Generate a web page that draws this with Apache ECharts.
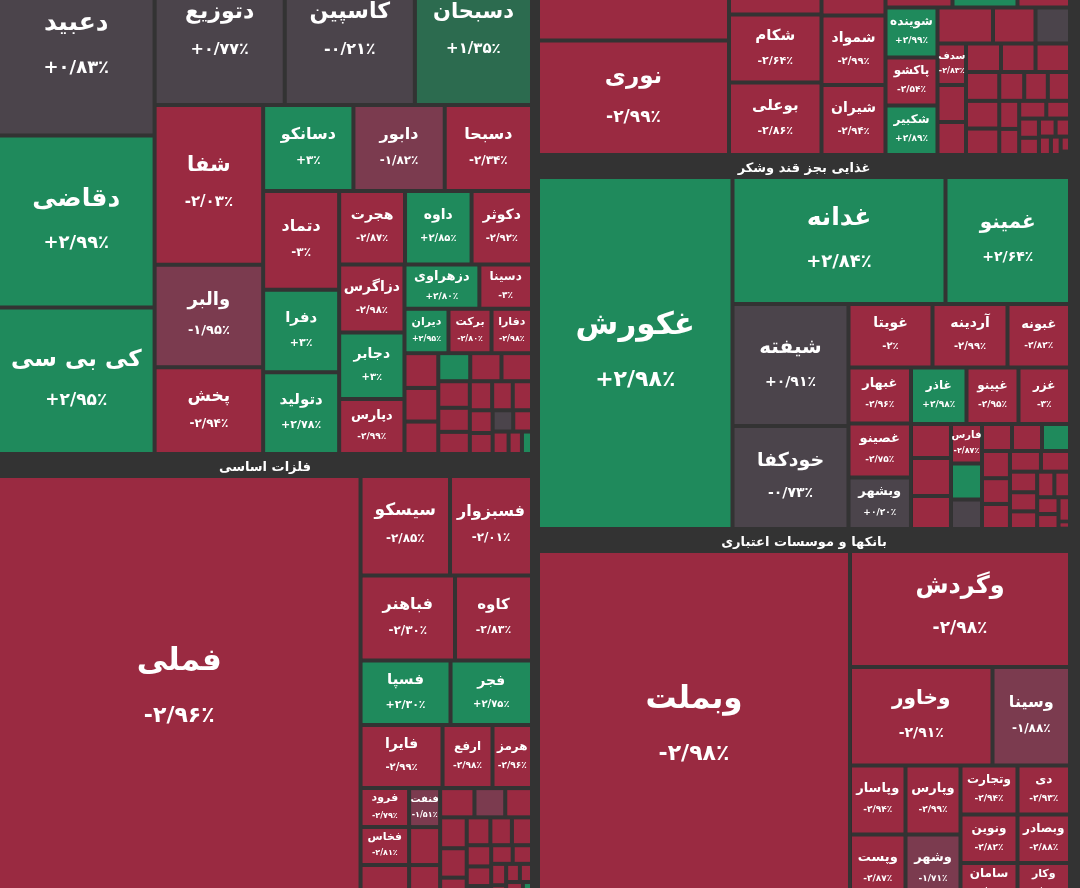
<!DOCTYPE html>
<html><head><meta charset="utf-8">
<script src="https://cdn.jsdelivr.net/npm/echarts@6.0.0/dist/echarts.min.js"></script>
<style>html,body{margin:0;padding:0;background:#333;}#c{width:1080px;height:888px;}</style>
</head><body><div id="c"></div>
<script>
// ---- sectors ----
const sectorNames = ['مواد و محصولات دارویی', 'فلزات اساسی', 'محصولات شیمیایی', 'غذایی بجز قند وشکر', 'بانکها و موسسات اعتباری'];
const sectorSizes = [269000, 242100, 107736, 200464, 201000];

// ---- pharma ----
const pharmaNames = ['دعبید','دقاضی','کی بی سی','دتوزیع','کاسپین','دسبحان','شفا','والبر','پخش','دسانکو','دابور','دسبحا','دتماد','دفرا','دتولید','هجرت','داوه','دکوثر','دزاگرس','دجابر','دپارس','دزهراوی','دسینا','دیران','برکت','دفارا'];
const pharmaSizes = [27868,27004,23000,19175,19175,17258,17386,11173,9429,7785,7872,7526,7535,6273,6235,4850,4900,4450,4454,4356,3603,3330,2340,1958,1913,1800,
  1180,1140,1100,900,880,860,840,760,700,650,600,560,520,480,440,400,360,300,227];
const pharmaChanges = [0.83,2.99,2.95,0.77,-0.21,1.35,-2.03,-1.95,-2.94,3,-1.82,-2.34,-3,3,2.78,-2.87,2.85,-2.92,-2.98,3,-2.99,2.80,-3,2.95,-2.80,-2.98,
  -2.9,-2.9,-2.9,2.9,-2.9,-2.9,-2.9,-2.9,-2.9,-2.9,-2.9,-2.9,-2.9,-2.9,0.3,-2.9,-2.9,-2.9,2.9];
const pharmaRows = [3,3,3,3,3,3,3,2,3];

// ---- basic metals ----
const metalsNames = ['فملی','سیسکو','فسبزوار','فباهنر','کاوه','فسپا','فجر','فایرا','ارفع','هرمز','فرود','فخاس','','فنفت'];
const metalsSizes = [155150,8905,8159,8033,6545,5805,5257,5166,3150,2489,1892,1843,1892,1209,1178,1209,1003,900,782,
  820,780,700,660,600,560,520,480,440,400,360,320,280,250,220,188,180,200];
const metalsChanges = [-2.96,-2.85,-2.01,-2.30,-2.83,2.30,2.75,-2.99,-2.98,-2.96,-2.79,-2.81,-2.9,-1.51,-2.9,-2.9,-2.9,-1.7,-2.9,
  -2.9,-2.9,-2.9,-2.9,-2.9,-2.9,-2.9,-2.9,-2.9,-2.9,-2.9,-2.9,-2.9,-2.9,-2.9,-2.9,-2.9,2.9];
const metalsRows = [1,2,2,2,3,3,3,3];

// ---- chemicals ----
const chemNames = ['','نوری','','شکام','بوعلی','','شمواد','شیران','','','','شوینده','پاکشو','شکبیر','','','','سدف'];
const chemSizes = [15758,21870,5226,6290,6706,3680,4448,4480,3317,3218,2599,2600,2496,2574,1998,1530,1242,1183,1055,941,998,983,983,
  960,920,880,720,680,640,560,520,480,420,380,340,300,260,220,180,140,32];
const chemChanges = [-2.9,-2.99,-2.9,-2.64,-2.86,-2.9,-2.99,-2.94,-2.9,2.9,-2.9,2.99,-2.54,2.89,-2.9,-2.9,0.3,-2.83,-2.9,-2.9,-2.9,-2.9,-2.9,
  -2.9,-2.9,-2.9,-2.9,-2.9,-2.9,-2.9,-2.9,-2.9,-2.9,-2.9,-2.9,-2.9,-2.9,-2.9,-2.9,-2.9,-2.9];
const chemRows = [2,3,3,3,3,3,3,3];

// ---- food ----
const foodNames = ['غکورش','غدانه','غمینو','شیفته','خودکفا','غویتا','آردینه','غبونه','غبهار','غصینو','وبشهر','غاذر','غپینو','غزر','','','','فارس'];
const foodSizes = [68464,27051,15812,14152,11948,5334,4763,3969,3500,3375,3219,3136,2938,2910,1360,1520,1320,1225,1116,915,810,810,756,
  760,720,700,640,600,560,520,480,440,400,360,320,280,84];
const foodChanges = [2.98,2.84,2.64,0.91,-0.73,-2,-2.99,-2.82,-2.96,-2.75,0.20,2.98,-2.95,-3,-2.9,-2.9,-2.9,-2.87,2.9,0.3,-2.9,-2.9,2.9,
  -2.9,-2.9,-2.9,-2.9,-2.9,-2.9,-2.9,-2.9,-2.9,-2.9,-2.9,-2.9,-2.9,-2.9];
const foodRows = [1,2,2,3,3,3,3,3,3];

// ---- banks ----
const banksNames = ['وبملت','وگردش','وخاور','وسینا','وپاسار','وپست','وپارس','وشهر','وتجارت','دی','ونوین','سامان','وبصادر','وکار'];
const banksSizes = [110136,25520,14036,7634,3830,3857,3795,3823,2793,2573,2765,2337,2546,2153];
const banksChanges = [-2.98,-2.98,-2.91,-1.88,-2.94,-2.87,-2.99,-1.71,-2.94,-2.93,-2.82,-2.9,-2.88,-2.9];
const banksRows = [1,1,2,2,2,2,2];

// ---------------------------------------------------------------
const FONT = 'DejaVu Sans';
const GAP = '#333333';
const FA = '۰۱۲۳۴۵۶۷۸۹';
function fmtChange(ch) {
  const a = Math.abs(ch);
  const s = Number.isInteger(a) ? String(a) : a.toFixed(2);
  return (ch >= 0 ? '+' : '-') + s.replace(/\d/g, d => FA[+d]).replace('.', '/') + '٪';
}
function colorOf(ch) {
  if (ch >= 2) return '#1f8a5c';
  if (ch >= 1) return '#2c6b4f';
  if (ch > -1) return '#4b444b';
  if (ch > -2) return '#7b3b4f';
  return '#9a2a41';
}
const allLeaves = [];
function leaf(name, size, ch) {
  const F = Math.round(Math.min(31, Math.max(10, 0.115 * Math.sqrt(size) + 6)));
  const Fv = Math.max(8, Math.round(F * 0.72));
  const lh = Math.round(F * 1.9 - 4);
  const item = {
    name: name || '', value: size, ch: ch, key: allLeaves.length, lh: lh,
    itemStyle: { color: colorOf(ch), borderWidth: 0 },
    label: {
      padding: 0,
      rich: {
        n: { fontSize: F, lineHeight: lh, fontFamily: FONT, fontWeight: 'bold', color: '#fff', align: 'center' },
        v: { fontSize: Fv, lineHeight: lh, fontFamily: FONT, fontWeight: 'bold', color: '#fff', align: 'center' }
      }
    }
  };
  allLeaves.push(item);
  return item;
}
const groupStyle = { borderWidth: 0, gapWidth: 4, borderColor: GAP };
function buildRows(names, sizes, changes, rows) {
  const leaves = sizes.map((s, i) => leaf(names[i], s, changes[i]));
  function nest(start, r) {
    if (r >= rows.length) return leaves.slice(start);
    const end = start + rows[r];
    const row = leaves.slice(start, end);
    if (end >= leaves.length) return row;
    return row.concat([{ name: '', children: nest(end, r + 1), itemStyle: groupStyle }]);
  }
  return nest(0, 0);
}
function sector(idx, names, sizes, changes, rows, header) {
  return {
    name: sectorNames[idx], value: sectorSizes[idx],
    itemStyle: { borderWidth: 2, gapWidth: 4, borderColor: GAP },
    upperLabel: header ? {
      show: true, height: 20, position: 'inside', color: '#fff', fontSize: 13, fontWeight: 'bold',
      fontFamily: FONT, formatter: '{b}', align: 'center', verticalAlign: 'middle'
    } : { show: false },
    children: buildRows(names, sizes, changes, rows)
  };
}
const leftCol = { name: '', itemStyle: groupStyle, children: [
  sector(0, pharmaNames, pharmaSizes, pharmaChanges, pharmaRows, false),
  sector(1, metalsNames, metalsSizes, metalsChanges, metalsRows, true)
]};
const rightCol = { name: '', itemStyle: groupStyle, children: [
  sector(2, chemNames, chemSizes, chemChanges, chemRows, false),
  sector(3, foodNames, foodSizes, foodChanges, foodRows, true),
  sector(4, banksNames, banksSizes, banksChanges, banksRows, true)
]};
const all = { name: '', itemStyle: { borderWidth: 0, gapWidth: 6, borderColor: GAP }, children: [leftCol, rightCol] };

const option = {
  backgroundColor: GAP,
  animation: false,
  series: [{
    type: 'treemap',
    left: -2, top: -42, width: 1072, height: 946,
    squareRatio: 1,
    sort: false,
    roam: false,
    nodeClick: false,
    visibleMin: 0,
    breadcrumb: { show: false },
    itemStyle: { borderWidth: 0, gapWidth: 4, borderColor: GAP },
    upperLabel: { show: false },
    label: {
      show: true, position: 'inside', padding: 0, overflow: 'none',
      fontFamily: FONT, fontWeight: 'bold', color: '#fff',
      formatter: p => p.name ? '{n|' + p.name + '}\n{v|' + fmtChange(p.data.ch) + '}' : ''
    },
    emphasis: { disabled: true },
    data: [all]
  }]
};
const chart = echarts.init(document.getElementById('c'));
chart.setOption(option);

// second pass: centre each two-line label vertically inside its own cell
try {
  const sData = chart.getModel().getSeriesByIndex(0).getData();
  for (let i = 0; i < sData.count(); i++) {
    const raw = sData.getRawDataItem(i);
    const lay = sData.getItemLayout(i);
    if (raw && raw.key != null && lay && allLeaves[raw.key]) {
      const lf = allLeaves[raw.key];
      const lhEff = Math.min(lf.lh, Math.floor(lay.height / 2));
      lf.label.rich.n.lineHeight = lhEff;
      lf.label.rich.v.lineHeight = lhEff;
      lf.label.padding = [Math.max(0, Math.floor((lay.height - 2 * lhEff) / 2)), 0, 0, 0];
    }
  }
  chart.setOption(option, true);
} catch (e) { console.log(e); }
</script></body></html>
